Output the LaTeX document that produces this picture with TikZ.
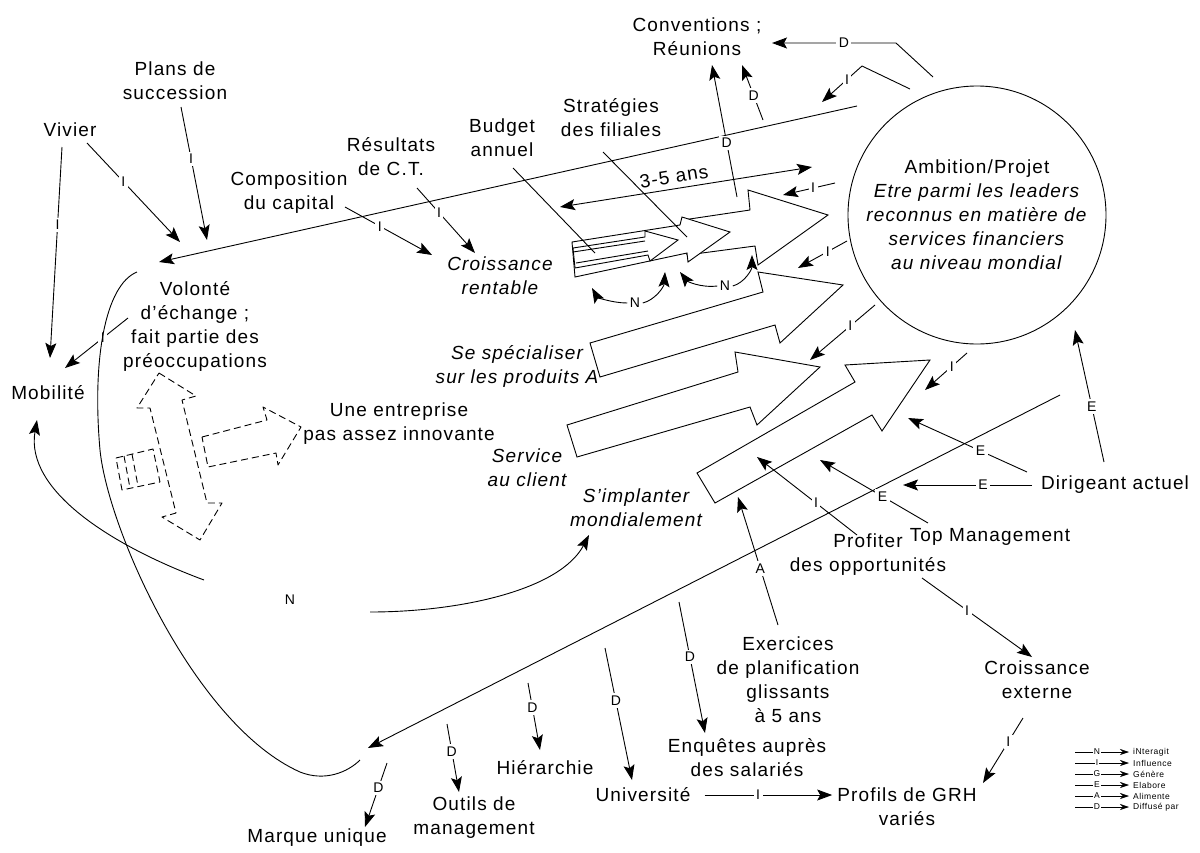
\documentclass[tikz,border=0pt]{standalone}
\usepackage{fontspec}
\setmainfont{Liberation Sans}[LetterSpace=6]
\usetikzlibrary{arrows.meta}

\begin{document}
\begin{tikzpicture}[x=1pt, y=-1pt, line join=round,
    >={Stealth[length=15pt,width=11pt,inset=3pt]},
    txt/.style={align=center, inner sep=2pt, font=\fontsize{19}{24}\selectfont},
    itx/.style={txt, font=\fontsize{19}{24}\selectfont\itshape},
    lbl/.style={fill=white, inner sep=2.5pt, font=\fontsize{14}{15}\selectfont},
    conn/.style={line width=.9pt, ->},
    plain/.style={line width=.9pt},
    blk/.style={draw, fill=white, line width=.9pt, line join=miter},
    dsh/.style={line width=.9pt, dash pattern=on 7pt off 4pt},
    gconn/.style={line width=.6pt, -{Stealth[length=9pt,width=6pt]}}]
  \useasboundingbox (0,0) rectangle (1200,852);

  % Block arrows, drawn back to front
  \draw[blk] (697,473) -- (855,382) -- (845,365) -- (930,360) -- (882,431) -- (872,415) -- (715,503) -- cycle;
  \draw[blk] (567,425) -- (738,372) -- (735,352) -- (820,367) -- (757,425) -- (750,407) -- (577,457) -- cycle;
  \draw[blk] (590,343) -- (763,292) -- (758,272) -- (843,285) -- (780,343) -- (775,325) -- (600,377) -- cycle;
  \draw[blk] (683,220) -- (750,210) -- (748,190) -- (828,215) -- (758,265) -- (755,246) -- (687,255) -- cycle;
  \draw[blk] (572,242) -- (680,225) -- (682,217) -- (730,232) -- (688,262) -- (687,253) -- (575,277) -- cycle;
  \draw[blk] (573,248) -- (645,237) -- (645,231) -- (678,240) -- (650,261) -- (648,255) -- (575,268) -- cycle;
  \draw[plain] (573,252) -- (645,241) (576,263) -- (648,251);

  % Dashed double arrow
  \draw[dsh] (159,373) -- (196,396) -- (182,400) -- (207,503) -- (222,503) -- (200,540)
             -- (162,517) -- (176,513) -- (150,408) -- (137,408) -- cycle;
  \draw[dsh] (202,437) -- (267,420) -- (263,407) -- (301,427) -- (278,465) -- (276,453) -- (208,467) -- cycle;
  \draw[dsh] (116,458) -- (153,449) -- (160,482) -- (122,490) -- cycle;
  \draw[dsh] (124,456) -- (130,488) (132,454) -- (138,486);

  % Ambition
  \node[txt, circle, draw, line width=.9pt, minimum size=258pt, inner sep=0pt] (ambition) at (977,215)
    {Ambition/Projet\\\textit{Etre parmi les leaders}\\\textit{reconnus en matière de}\\\textit{services financiers}\\\textit{au niveau mondial}};

  % Texts
  \node[txt] (conv) at (697,37) {Conventions ;\\Réunions};
  \node[txt] (plans) at (175,81) {Plans de\\succession};
  \node[txt] (vivier) at (70,130) {Vivier};
  \node[txt] (compo) at (289,193) {Composition\\du capital};
  \node[txt] (resultats) at (391,157) {Résultats\\de C.T.};
  \node[txt] (budget) at (502,138) {Budget\\annuel};
  \node[txt] (strat) at (611,118) {Stratégies\\des filiales};
  \node[itx] (croiss) at (500,276) {Croissance\\rentable};
  \node[txt] (volonte) at (195,326) {Volonté\\d’échange ;\\fait partie des\\préoccupations};
  \node[txt] (mobilite) at (48,393) {Mobilité};
  \node[txt] (innov) at (399,424) {Une entreprise\\pas assez innovante};
  \node[itx] (special) at (517,366) {Se spécialiser\\sur les produits A};
  \node[itx] (service) at (527,468) {Service\\au client};
  \node[itx] (implant) at (636,508) {S’implanter\\mondialement};
  \node[txt] (dirigeant) at (1115,485) {Dirigeant actuel};
  \node[txt] (topmgmt) at (990,537) {Top Management};
  \node[txt] (profiter) at (868,555) {Profiter\\des opportunités};
  \node[txt] (croissext) at (1037,680) {Croissance\\externe};
  \node[txt] (exercices) at (788,680) {Exercices\\de planification\\glissants\\à 5 ans};
  \node[txt] (enquetes) at (747,758) {Enquêtes auprès\\des salariés};
  \node[txt] (profils) at (907,807) {Profils de GRH\\variés};
  \node[txt] (universite) at (643,795) {Université};
  \node[txt] (hierarchie) at (545,768) {Hiérarchie};
  \node[txt] (outils) at (474,818) {Outils de\\management};
  \node[txt] (marque) at (317,838) {Marque unique};

  % Free ends of the connectors
  \foreach \n/\x/\y in {
      viv-a/62/147, mob-a/50/358, viv-b/87/143, vol-a/180/242, pla-a/181/107, vol-b/207/240,
      vol-d/128/318, mob-c/65/368, amb-a/857/106, vol-c/159/262,
      amb-b/910/89, bend-a/862/66, lng-a/822/102, amb-c/933/77, bend-b/896/43, conv-a/772/43,
      arr-a/737/197, conv-b/712/65, lng-b/763/120, conv-c/742/65,
      com-a/345/207, cro-a/432/255, res-a/417/188, cro-b/475/253,
      bud-a/513/168, bud-b/595/253, str-a/603/152, str-b/687/237, hz-a/560/207, hz-b/812/167,
      amb-d/835/183, t1/783/195, amb-e/847/241, t2/798/268, amb-f/875/305, t3/810/360, amb-g/967/353, t4/925/390,
      na/592/288, nb/665/272, nc/680/272, nd/752/255,
      cv-a/204/580, mob-b/37/420, cv-b/370/612, imp-a/589/535,
      lng-c/1060/395, mar-a/368/748,
      dir-a/1104/462, amb-h/1075/330, dir-b/1027/472, t5/908/418, dir-c/1032/485, t6/903/485, top-a/928/523, t7/820/460,
      pro-a/857/535, t8/757/457, exe-a/778/625, t9/738/497, pro-b/922/578, ext-a/1032/657, ext-b/1023/718, prf-a/983/783,
      d1s/679/602, enq-a/705/733, d2s/605/648, uni-a/632/780, d3s/528/683, hie-a/540/750,
      d4s/447/724, out-a/459/792, d5s/387/763, mar-b/365/827}
    \coordinate (\n) at (\x,\y);

  % Influences
  \draw[conn] (viv-a) -- node[lbl, pos=.37] {I} (mob-a);
  \draw[conn] (viv-b) -- node[lbl, pos=.39] {I} (vol-a);
  \draw[conn] (pla-a) -- node[lbl, pos=.39] {I} (vol-b);
  \draw[conn] (vol-d) -- node[lbl, pos=.4] {I} (mob-c);
  \draw[conn] (com-a) -- node[lbl, pos=.4] {I} (cro-a);
  \draw[conn] (res-a) -- node[lbl, pos=.38] {I} (cro-b);
  \draw[conn] (amb-a) -- (vol-c);
  \draw[conn] (amb-b) -- (bend-a) -- node[lbl, pos=.375] {I} (lng-a);
  \foreach \s/\e/\p in {amb-d/t1/.42, amb-e/t2/.39, amb-f/t3/.38, amb-g/t4/.36}
    \draw[conn] (\s) -- node[lbl, pos=\p] {I} (\e);
  \draw[conn] (pro-a) -- node[lbl, pos=.41] {I} (t8);
  \draw[conn] (pro-b) -- node[lbl, pos=.41] {I} (ext-a);
  \draw[conn] (ext-b) -- node[lbl, pos=.37] {I} (prf-a);
  \draw[conn, shorten <=12pt, shorten >=3pt] (universite.east) -- node[lbl, pos=.46] {I} (universite.east -| profils.west);

  % Diffusion
  \draw[conn] (amb-c) -- (bend-b) -- node[lbl, pos=.42] {D} (conv-a);
  \draw[conn] (arr-a) -- node[lbl, pos=.41] {D} (conv-b);
  \draw[conn] (lng-b) -- node[lbl, pos=.44] {D} (conv-c);
  \foreach \s/\e/\p in {d1s/enq-a/.42, d2s/uni-a/.4, d3s/hie-a/.37, d4s/out-a/.4, d5s/mar-b/.39}
    \draw[conn] (\s) -- node[lbl, pos=\p] {D} (\e);
  \draw[conn] (lng-c) -- (mar-a);

  % Elaboration
  \foreach \s/\e/\p in {dir-a/amb-h/.42, dir-b/t5/.39, dir-c/t6/.38, top-a/t7/.42}
    \draw[conn] (\s) -- node[lbl, pos=\p] {E} (\e);
  \draw[conn] (exe-a) -- node[lbl, pos=.44] {A} (t9);

  % Pointers and horizon
  \draw[plain] (bud-a) -- (bud-b);
  \draw[plain] (str-a) -- (str-b);
  \draw[plain, <->] (hz-a) -- node[sloped, above=3pt, pos=.46, txt] (horizon) {3-5 ans} (hz-b);

  % Interactions
  \node[lbl] (n1) at (635,303) {N};
  \node[lbl] (n2) at (725,286) {N};
  \node[lbl] (nbig) at (290,600) {N};
  \draw[conn] (n1.west) .. controls (612,303) and (597,297) .. (na);
  \draw[conn] (n1.east) .. controls (655,300) and (664,287) .. (nb);
  \draw[conn] (n2.west) .. controls (700,288) and (687,281) .. (nc);
  \draw[conn] (n2.east) .. controls (744,283) and (752,270) .. (nd);
  \draw[conn] (cv-a) .. controls (110,545) and (25,490) .. (mob-b);
  \draw[conn] (cv-b) .. controls (460,612) and (560,590) .. (imp-a);

  % Enclosing curve
  \draw[plain] (137,272) .. controls (105,285) and (92,360) .. (100,450)
               .. controls (108,530) and (195,725) .. (300,772)
               .. controls (325,782) and (348,772) .. (360,760);

  % Legend
  \foreach \l/\t [count=\i from 0] in {N/iNteragit, I/Influence, G/Génère, E/Elabore, A/Alimente, D/Diffusé par} {
    \coordinate (lg\i) at (1075,752+11*\i);
    \node[anchor=west, inner sep=0pt, font=\fontsize{8.5}{10}\selectfont] (lgt\i) at (1133,752+11*\i) {\t};
    \draw[gconn, shorten >=4pt] (lg\i) -- node[lbl, inner sep=1pt, pos=.38, font=\fontsize{8.5}{10}\selectfont] {\l} (lgt\i.west);
  }
\end{tikzpicture}
\end{document}
